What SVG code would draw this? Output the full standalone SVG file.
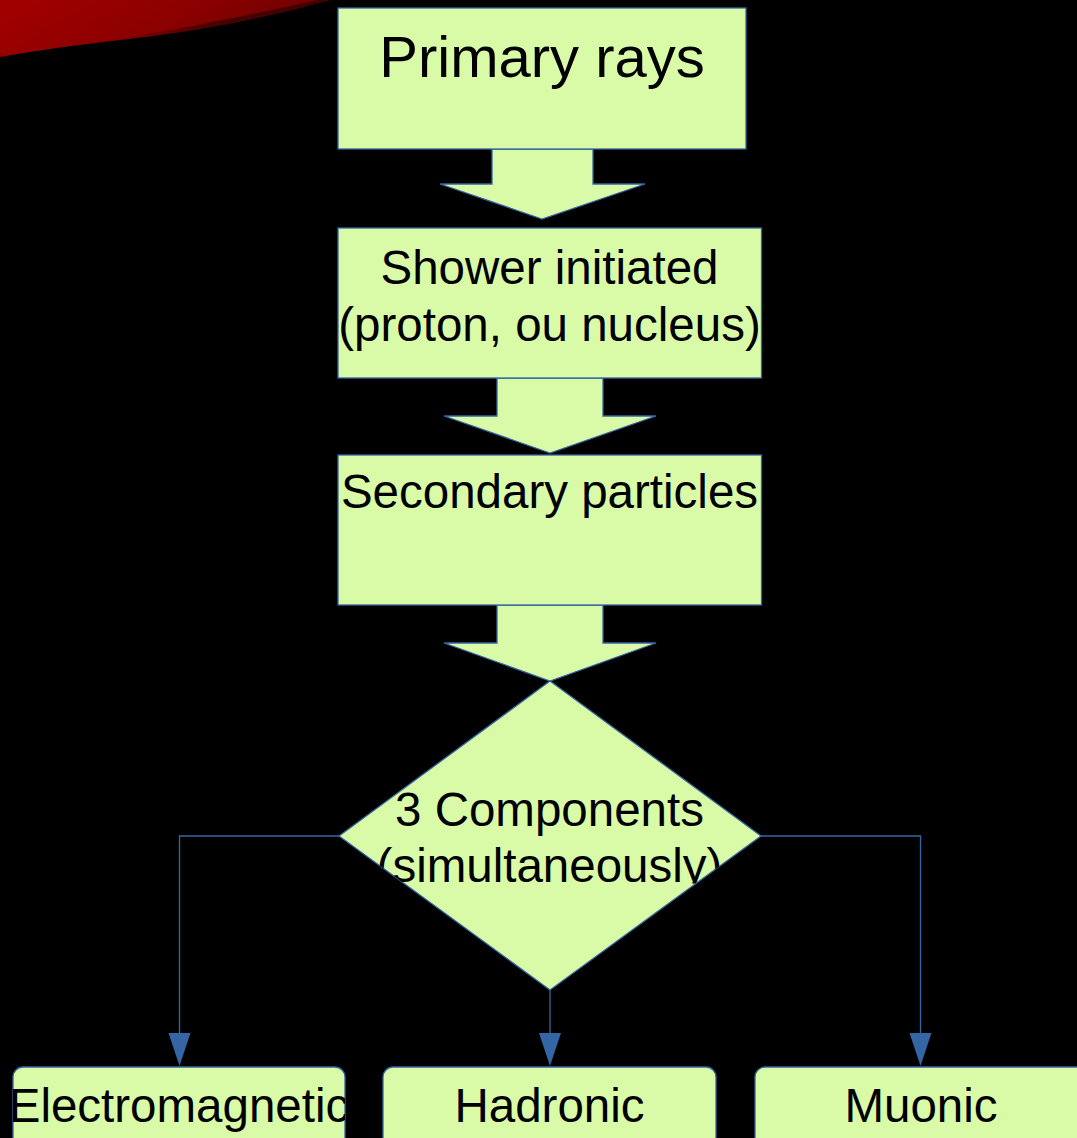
<svg xmlns="http://www.w3.org/2000/svg" width="1077" height="1138" viewBox="0 0 1077 1138">
<defs>
<style>
.shape{fill:#d9fba8;stroke:#3465a4;stroke-width:1.3}
.lbl{font-family:"Liberation Sans",Arial,sans-serif;fill:#000;text-anchor:middle}
.conn{fill:none;stroke:#3465a4;stroke-width:1.3}
.head{fill:#3465a4}
</style>
<linearGradient id="red" x1="0" y1="0" x2="1" y2="0.3">
<stop offset="0" stop-color="#a40000"/>
<stop offset="0.6" stop-color="#8a0000"/>
<stop offset="1" stop-color="#6a0000"/>
</linearGradient>
<linearGradient id="dark" x1="0" y1="0" x2="1" y2="0">
<stop offset="0" stop-color="#5a0000" stop-opacity="0"/>
<stop offset="0.5" stop-color="#420000" stop-opacity="0.9"/>
<stop offset="1" stop-color="#3a0000" stop-opacity="0.9"/>
</linearGradient>
<clipPath id="cd"><polygon points="550,681 761,836 550,990 339,836"/></clipPath>
<clipPath id="cdb"><rect x="330" y="680" width="440" height="203.5"/></clipPath>
<clipPath id="c2"><rect x="338" y="228" width="423.5" height="150"/></clipPath>
<clipPath id="cL"><rect x="13" y="1067" width="332" height="80" rx="10"/></clipPath>
<clipPath id="cM"><rect x="383" y="1067" width="333" height="80" rx="10"/></clipPath>
<clipPath id="cR"><rect x="755" y="1067" width="333" height="80" rx="10"/></clipPath>
</defs>
<rect width="1077" height="1138" fill="#000"/>
<g id="swoosh">
<path d="M0,0 L330,0 Q230,28 120,40 Q50,48 0,57 Z" fill="url(#red)"/>
<path d="M90,44 Q200,26 290,6 L318,0 L330,0 Q230,28 120,40 Q100,43 90,44 Z" fill="url(#dark)"/>
</g>
<g id="connectors">
<path class="conn" d="M339,836 H179.5 V1034"/>
<polygon class="head" points="168.5,1033 190.5,1033 179.5,1066"/>
<path class="conn" d="M550,990 V1034"/>
<polygon class="head" points="539,1033 561,1033 550,1066"/>
<path class="conn" d="M761,836 H920.5 V1034"/>
<polygon class="head" points="909.5,1033 931.5,1033 920.5,1066"/>
</g>
<g id="arrow1"><polygon class="shape" points="492,149 593,149 593,184 645,184 542,219 440,184 492,184"/></g>
<g id="arrow2"><polygon class="shape" points="497,378 603,378 603,416 656,416 550,453 444,416 497,416"/></g>
<g id="arrow3"><polygon class="shape" points="497,605 603,605 603,643 656,643 550,681 444,643 497,643"/></g>
<g id="primary">
<rect class="shape" x="338" y="8" width="408" height="141"/>
<text class="lbl" x="542" y="77" font-size="58">Primary rays</text>
</g>
<g id="shower">
<rect class="shape" x="338" y="228" width="423.5" height="150"/>
<g clip-path="url(#c2)">
<text class="lbl" x="549.5" y="284" font-size="47.5">Shower initiated</text>
<text class="lbl" x="549.5" y="341" font-size="47.5">(proton, ou nucleus)</text>
</g>
</g>
<g id="secondary">
<rect class="shape" x="338" y="455" width="423.5" height="150"/>
<text class="lbl" x="549.5" y="508" font-size="47.5">Secondary particles</text>
</g>
<g id="components">
<polygon class="shape" points="550,681 761,836 550,990 339,836"/>
<g clip-path="url(#cd)"><g clip-path="url(#cdb)">
<text class="lbl" x="549.5" y="826" font-size="47.5">3 Components</text>
<text class="lbl" x="549.5" y="882" font-size="47.5">(simultaneously)</text>
</g></g>
</g>
<g id="electromagnetic">
<rect class="shape" x="13" y="1067" width="332" height="80" rx="10"/>
<text class="lbl" x="179" y="1122" font-size="47.5" clip-path="url(#cL)">Electromagnetic</text>
</g>
<g id="hadronic">
<rect class="shape" x="383" y="1067" width="333" height="80" rx="10"/>
<text class="lbl" x="549.5" y="1122" font-size="47.5" clip-path="url(#cM)">Hadronic</text>
</g>
<g id="muonic">
<rect class="shape" x="755" y="1067" width="333" height="80" rx="10"/>
<text class="lbl" x="921" y="1122" font-size="47.5" clip-path="url(#cR)">Muonic</text>
</g>
</svg>
